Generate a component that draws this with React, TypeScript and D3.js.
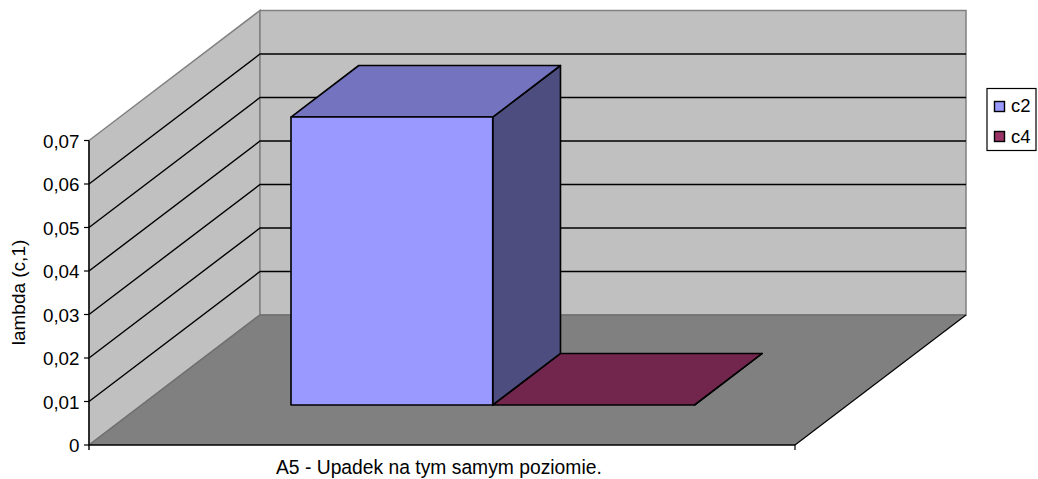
import React from "react";
import * as d3 from "d3";

const categories = ["A5 - Upadek na tym samym poziomie."];
const seriesNames = ["c2", "c4"];
const seriesValues = [0.0662, 0];
const seriesColors = ["#9999FF", "#993366"];
const topColors = ["#7373BF", "#73264D"];
const sideColors = ["#4D4D80", "#4D1A33"];
const yTicks = [0, 0.01, 0.02, 0.03, 0.04, 0.05, 0.06, 0.07];
const yTitle = "lambda (c,1)";

const width = 1038;
const height = 479;
const font = "'Liberation Sans', Arial, sans-serif";

const xCat = d3.scaleBand().domain(categories).range([89, 795]);
const xSeries = d3
  .scaleBand()
  .domain(seriesNames)
  .range([xCat(categories[0])!, xCat(categories[0])! + xCat.bandwidth()])
  .paddingInner(0)
  .paddingOuter(0.75)
  .align(0.4937);
const y = d3.scaleLinear().domain([0, 0.07]).range([445, 140.5]);
// depth 0 = front of floor, 1 = back wall
const depthX = d3.scaleLinear().domain([0, 1]).range([0, 171]);
const depthY = d3.scaleLinear().domain([0, 1]).range([0, -130]);

const project = (x: number, v: number, d: number): [number, number] => [x + depthX(d), y(v) + depthY(d)];
const poly = (pts: [number, number][]) => d3.line()(pts)! + "Z";

const barFront = 0.3077;
const barBack = 0.704;
const tickLabel = (v: number) => (v === 0 ? "0" : d3.format(".2f")(v).replace(".", ","));

export default function App() {
  const x0 = xCat.range()[0];
  const x1 = xCat.range()[1];
  const yMax = y.domain()[1];
  return (
    <svg
      width={width}
      height={height}
      style={{ position: "absolute", left: 0, top: 0, background: "#fff" }}
      fontFamily={font}
    >
      {/* walls */}
      <path
        d={poly([project(x0, 0, 0), project(x0, yMax, 0), project(x0, yMax, 1), project(x0, 0, 1)])}
        fill="#C0C0C0"
        stroke="#808080"
        strokeWidth={1.5}
      />
      <path
        d={poly([project(x0, 0, 1), project(x0, yMax, 1), project(x1, yMax, 1), project(x1, 0, 1)])}
        fill="#C0C0C0"
        stroke="#808080"
        strokeWidth={1.5}
      />
      {/* gridlines */}
      {yTicks
        .filter((t) => t > 0 && t < yMax)
        .map((t) => (
          <path
            key={t}
            d={d3.line()([project(x0, t, 0), project(x0, t, 1), project(x1, t, 1)])!}
            fill="none"
            stroke="#000"
            strokeWidth={1.4}
          />
        ))}
      {/* floor */}
      <path
        d={poly([project(x0, 0, 0), project(x1, 0, 0), project(x1, 0, 1), project(x0, 0, 1)])}
        fill="#808080"
      />
      <path
        d={d3.line()([project(x0, 0, 0), project(x0, 0, 1), project(x1, 0, 1)])!}
        fill="none"
        stroke="#707070"
        strokeWidth={1.5}
      />
      <path d={d3.line()([project(x1, 0, 0), project(x1, 0, 1)])!} fill="none" stroke="#000" strokeWidth={1.2} />
      {/* bars, drawn back to front from right to left */}
      {seriesNames
        .map((s, i) => ({ s, i, v: seriesValues[i] }))
        .reverse()
        .map(({ s, i, v }) => {
          const a = xSeries(s)!;
          const b = a + xSeries.bandwidth();
          return (
            <g key={s} stroke="#000" strokeWidth={1.6} strokeLinejoin="round">
              <path
                d={poly([project(b, 0, barFront), project(b, 0, barBack), project(b, v, barBack), project(b, v, barFront)])}
                fill={sideColors[i]}
              />
              <path
                d={poly([project(a, v, barFront), project(b, v, barFront), project(b, v, barBack), project(a, v, barBack)])}
                fill={topColors[i]}
              />
              {v > 0 && (
                <path
                  d={poly([project(a, 0, barFront), project(b, 0, barFront), project(b, v, barFront), project(a, v, barFront)])}
                  fill={seriesColors[i]}
                />
              )}
            </g>
          );
        })}
      {/* axes */}
      <line x1={x0} x2={x0} y1={y(yMax)} y2={y(0) + 5} stroke="#000" strokeWidth={1.4} />
      <line x1={x0} x2={x1} y1={y(0)} y2={y(0)} stroke="#000" strokeWidth={1.4} />
      <line x1={x1} x2={x1} y1={y(0)} y2={y(0) + 5} stroke="#000" strokeWidth={1.2} />
      {yTicks.map((t) => (
        <g key={t}>
          <line x1={x0 - 5} x2={x0} y1={y(t)} y2={y(t)} stroke="#000" strokeWidth={1.2} />
          <text x={79.5} y={y(t) + 7} textAnchor="end" fontSize={18.8} fill="#000">
            {tickLabel(t)}
          </text>
        </g>
      ))}
      <text
        transform="translate(25,292.5) rotate(-90)"
        textAnchor="middle"
        fontSize={19}
        fill="#000"
      >
        {yTitle}
      </text>
      <text x={276} y={474} fontSize={19.3} fill="#000">
        {categories[0]}
      </text>
      {/* legend */}
      <rect x={987} y={88.5} width={49} height={62} fill="#fff" stroke="#000" strokeWidth={1.2} />
      {seriesNames.map((s, i) => (
        <g key={s}>
          <rect x={994.5} y={101.5 + i * 30} width={10} height={10} fill={seriesColors[i]} stroke="#000" strokeWidth={1.4} />
          <text x={1011} y={112 + i * 30.5} fontSize={18.5} fill="#000">
            {s}
          </text>
        </g>
      ))}
    </svg>
  );
}
